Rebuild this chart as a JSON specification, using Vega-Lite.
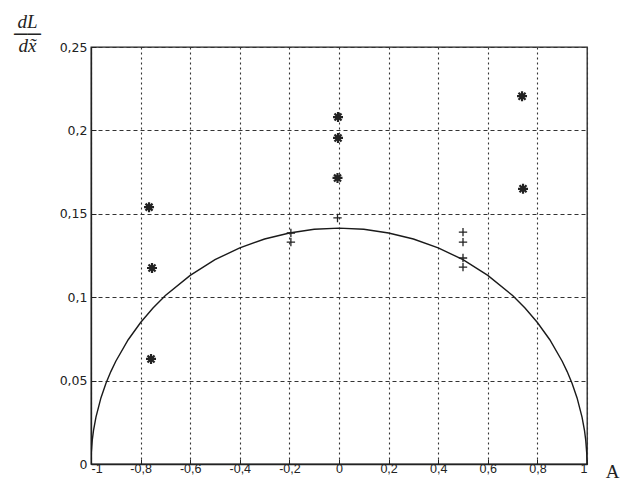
{
  "$schema": "https://vega.github.io/schema/vega-lite/v6.json",
  "autosize": "none",
  "padding": {"left": 91, "top": 47, "right": 36, "bottom": 20},
  "width": 496,
  "height": 417,
  "background": "white",
  "config": {
    "view": {"stroke": "#222", "strokeWidth": 1.3},
    "font": "Liberation Sans"
  },
  "datasets": {
    "curve": [
      {"x": -1, "y": 0}, {"x": -0.999, "y": 0.0063}, {"x": -0.995, "y": 0.0141}, {"x": -0.99, "y": 0.0200},
      {"x": -0.98, "y": 0.0281}, {"x": -0.96, "y": 0.0396}, {"x": -0.94, "y": 0.0482}, {"x": -0.92, "y": 0.0554},
      {"x": -0.9, "y": 0.0616}, {"x": -0.85, "y": 0.0745}, {"x": -0.8, "y": 0.0848}, {"x": -0.75, "y": 0.0935},
      {"x": -0.7, "y": 0.1010}, {"x": -0.6, "y": 0.1131}, {"x": -0.5, "y": 0.1225}, {"x": -0.4, "y": 0.1296},
      {"x": -0.3, "y": 0.1349}, {"x": -0.2, "y": 0.1385}, {"x": -0.1, "y": 0.1407}, {"x": 0, "y": 0.1414},
      {"x": 0.1, "y": 0.1407}, {"x": 0.2, "y": 0.1385}, {"x": 0.3, "y": 0.1349}, {"x": 0.4, "y": 0.1296},
      {"x": 0.5, "y": 0.1225}, {"x": 0.6, "y": 0.1131}, {"x": 0.7, "y": 0.1010}, {"x": 0.75, "y": 0.0935},
      {"x": 0.8, "y": 0.0848}, {"x": 0.85, "y": 0.0745}, {"x": 0.9, "y": 0.0616}, {"x": 0.92, "y": 0.0554},
      {"x": 0.94, "y": 0.0482}, {"x": 0.96, "y": 0.0396}, {"x": 0.98, "y": 0.0281}, {"x": 0.99, "y": 0.0200},
      {"x": 0.995, "y": 0.0141}, {"x": 0.999, "y": 0.0063}, {"x": 1, "y": 0}
    ],
    "stars": [
      {"x": -0.766, "y": 0.154}, {"x": -0.754, "y": 0.1175}, {"x": -0.758, "y": 0.063},
      {"x": -0.004, "y": 0.208}, {"x": -0.004, "y": 0.1955}, {"x": -0.006, "y": 0.1715},
      {"x": 0.738, "y": 0.2205}, {"x": 0.742, "y": 0.165}
    ],
    "pluses": [
      {"x": -0.006, "y": 0.1475}, {"x": -0.194, "y": 0.1385}, {"x": -0.194, "y": 0.133},
      {"x": 0.5, "y": 0.139}, {"x": 0.5, "y": 0.133}, {"x": 0.5, "y": 0.1235}, {"x": 0.5, "y": 0.118}
    ]
  },
  "layer": [
    {
      "data": {"name": "curve"},
      "mark": {"type": "line", "color": "#1a1a1a", "strokeWidth": 1.4, "clip": true},
      "encoding": {
        "x": {
          "field": "x", "type": "quantitative",
          "scale": {"domain": [-1, 1], "nice": false},
          "axis": {
            "values": [-1, -0.8, -0.6, -0.4, -0.2, 0, 0.2, 0.4, 0.6, 0.8, 1],
            "labelExpr": "replace(replace(format(datum.value, '~g'), '.', ','), '−', '-')",
            "labelFontSize": 12.5, "labelColor": "#222", "labelPadding": 3,
            "tickSize": -5, "tickColor": "#222", "domainColor": "#222", "domainWidth": 1.3,
            "grid": true, "gridColor": "#333", "gridDash": [2, 3], "gridWidth": 1.1, "gridOpacity": 1,
            "title": "A", "titleFont": "Liberation Serif", "titleFontWeight": "normal", "titleFontSize": 19,
            "titleColor": "#222", "titleX": 521, "titleY": 13, "titleAlign": "center", "titleBaseline": "alphabetic"
          }
        },
        "y": {
          "field": "y", "type": "quantitative",
          "scale": {"domain": [0, 0.25], "nice": false},
          "axis": {
            "values": [0, 0.05, 0.1, 0.15, 0.2, 0.25],
            "labelExpr": "replace(format(datum.value, '~g'), '.', ',')",
            "labelFont": "DejaVu Sans", "labelFontSize": 12.5, "labelColor": "#222", "labelPadding": 9,
            "tickSize": -5, "tickColor": "#222", "domainColor": "#222", "domainWidth": 1.3,
            "grid": true, "gridColor": "#333", "gridDash": [4, 3], "gridWidth": 1.1, "gridOpacity": 1,
            "title": ["dL", "──", "dx̃"], "titleFont": "Liberation Serif", "titleFontStyle": "italic",
            "titleFontWeight": "normal", "titleFontSize": 19, "titleColor": "#222", "titleLineHeight": 12,
            "titleAngle": 0, "titleX": -64, "titleY": -35, "titleAlign": "center", "titleBaseline": "top"
          }
        }
      }
    },
    {
      "data": {"name": "stars"},
      "mark": {"type": "point", "shape": "M-1,0L1,0M0,-1L0,1M-0.7,-0.7L0.7,0.7M-0.7,0.7L0.7,-0.7", "filled": false, "stroke": "#222", "strokeWidth": 2.2, "size": 100, "opacity": 1},
      "encoding": {
        "x": {"field": "x", "type": "quantitative"},
        "y": {"field": "y", "type": "quantitative"}
      }
    },
    {
      "data": {"name": "pluses"},
      "mark": {"type": "point", "shape": "M-1,0L1,0M0,-1L0,1", "filled": false, "stroke": "#222", "strokeWidth": 1.3, "size": 70, "opacity": 1},
      "encoding": {
        "x": {"field": "x", "type": "quantitative"},
        "y": {"field": "y", "type": "quantitative"}
      }
    }
  ]
}
